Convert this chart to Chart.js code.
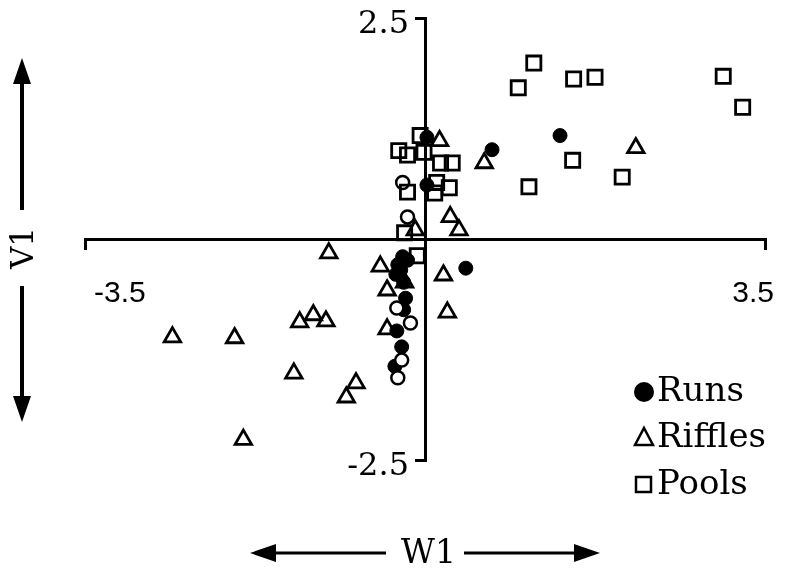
<!DOCTYPE html>
<html>
<head>
<meta charset="utf-8">
<script src="https://cdn.jsdelivr.net/npm/chart.js@4.4.1/dist/chart.umd.min.js"></script>
<style>
  html, body { margin: 0; padding: 0; background: #fff; }
  #wrap { position: relative; width: 788px; height: 573px; overflow: hidden; }
  #chart { position: absolute; left: 0; top: 0; }
  .lbl { position: absolute; font-family: 'DejaVu Serif', serif; color: #000; white-space: nowrap; }
  #deco { position: absolute; left: 0; top: 0; pointer-events: none; }
</style>
</head>
<body>
<div id="wrap">
  <canvas id="chart" width="788" height="573"></canvas>
  <svg id="deco" width="788" height="573">
    <!-- V1 arrows -->
    <line x1="22" y1="80" x2="22" y2="210" stroke="#000" stroke-width="4"/>
    <polygon points="22,58 13,84 31,84" fill="#000"/>
    <line x1="22" y1="286" x2="22" y2="400" stroke="#000" stroke-width="4"/>
    <polygon points="22,422 13,396 31,396" fill="#000"/>
    <!-- W1 arrows -->
    <line x1="272" y1="553" x2="386" y2="553" stroke="#000" stroke-width="3"/>
    <polygon points="250,553 276,544 276,562" fill="#000"/>
    <line x1="464" y1="553" x2="578" y2="553" stroke="#000" stroke-width="3"/>
    <polygon points="600,553 574,544 574,562" fill="#000"/>
    <!-- legend markers -->
    <circle cx="644" cy="392" r="10" fill="#000"/>
    <polygon points="644,428 653,445 635,445" fill="none" stroke="#000" stroke-width="2.5"/>
    <rect x="636" y="477" width="15" height="15" fill="none" stroke="#000" stroke-width="2.5"/>
  </svg>
  <div class="lbl" style="left:-2px; top:230px; width:48px; height:36px; font-size:31px; line-height:36px; text-align:center; transform:rotate(-90deg);">V1</div>
  <div class="lbl" style="left:401px; top:533px; font-size:33px; line-height:38px;">W1</div>
  <div class="lbl" style="left:657px; top:370px; font-size:34px; line-height:38px;">Runs</div>
  <div class="lbl" style="left:657px; top:416px; font-size:34px; line-height:38px;">Riffles</div>
  <div class="lbl" style="left:657px; top:463px; font-size:34px; line-height:38px;">Pools</div>
</div>
<script>
// site types on the W1 / V1 ordination plane
const X_TICKS = [-3.5, 3.5];
const X_LABELS = ['-3.5', '3.5'];
const Y_TICKS = [-2.5, 2.5];
const Y_LABELS = ['-2.5', '2.5'];

const RUNS_X = [1.39, 0.69, 0.02, 0.02, 0.42, -0.23, -0.28, -0.30, -0.22, -0.20, -0.22, -0.29, -0.24, -0.31, -0.18, -0.25];
const RUNS_Y = [1.17, 1.01, 1.15, 0.61, -0.33, -0.20, -0.29, -0.40, -0.49, -0.67, -0.80, -1.04, -1.22, -1.44, -0.24, -0.35];

// open circles (not in the key)
const OPEN_X = [-0.23, -0.18, -0.15, -0.29, -0.24, -0.28];
const OPEN_Y = [0.64, 0.25, -0.95, -0.78, -1.37, -1.57];

const RIFFLES_X = [0.15, 0.61, 2.17, 0.26, 0.35, -0.10, -0.99, -0.46, -0.21, -0.39, 0.19, 0.23, -0.39, -1.15, -1.29, -1.02, -2.60, -1.96, -1.35, -0.71, -0.81, -1.87];
const RIFFLES_Y = [1.11, 0.86, 1.03, 0.25, 0.10, 0.10, -0.16, -0.31, -0.49, -0.58, -0.41, -0.83, -1.02, -0.86, -0.94, -0.93, -1.11, -1.12, -1.52, -1.63, -1.79, -2.27];

const POOLS_X = [1.12, 0.96, 1.53, 1.75, 3.07, 3.27, 1.52, 1.07, 2.03, -0.05, -0.27, -0.18, -0.01, 0.16, 0.28, -0.18, 0.12, 0.25, 0.10, -0.21, -0.08];
const POOLS_Y = [1.99, 1.71, 1.81, 1.83, 1.84, 1.49, 0.89, 0.59, 0.70, 1.17, 1.00, 0.95, 0.98, 0.86, 0.86, 0.53, 0.64, 0.58, 0.52, 0.07, -0.19];

function pts(xs, ys) {
  return xs.map((x, i) => ({ x, y: ys[i] }));
}

const datasets = [
  { label: 'Pools', data: pts(POOLS_X, POOLS_Y), pointStyle: 'rect', pointRadius: 10,
    borderColor: '#000', backgroundColor: 'rgba(255,255,255,0)', borderWidth: 2.8 },
  { label: 'Riffles', data: pts(RIFFLES_X, RIFFLES_Y), pointStyle: 'triangle', pointRadius: 9.5,
    borderColor: '#000', backgroundColor: 'rgba(255,255,255,0)', borderWidth: 2.8 },
  { label: 'open', data: pts(OPEN_X, OPEN_Y), pointStyle: 'circle', pointRadius: 6.5,
    borderColor: '#000', backgroundColor: '#fff', borderWidth: 2.5 },
  { label: 'Runs', data: pts(RUNS_X, RUNS_Y), pointStyle: 'circle', pointRadius: 7,
    borderColor: '#000', backgroundColor: '#000', borderWidth: 1 },
];

const axisGrid = { drawOnChartArea: false, drawTicks: true, tickLength: 9, color: '#000', lineWidth: 3 };

new Chart(document.getElementById('chart'), {
  type: 'scatter',
  data: { datasets },
  options: {
    responsive: false,
    animation: false,
    layout: { padding: { left: 85, right: 23, top: 18, bottom: 113 } },
    plugins: { legend: { display: false }, tooltip: { enabled: false } },
    scales: {
      x: {
        type: 'linear', min: -3.5, max: 3.5,
        position: { y: 0 },
        afterFit: (s) => { s.height = 0; s.paddingLeft = 0; s.paddingRight = 0; },
        afterBuildTicks: (s) => { s.ticks = X_TICKS.map(v => ({ value: v })); },
        border: { color: '#000', width: 3 },
        grid: axisGrid,
        ticks: {
          align: 'inner', padding: 28, labelOffset: 9, color: '#000',
          font: { family: 'Liberation Sans', size: 30 },
          callback: (v, i) => X_LABELS[i],
        },
      },
      y: {
        type: 'linear', min: -2.5, max: 2.5,
        position: { x: 0 },
        afterFit: (s) => { s.width = 0; s.paddingTop = 0; s.paddingBottom = 0; },
        afterBuildTicks: (s) => { s.ticks = Y_TICKS.map(v => ({ value: v })); },
        border: { color: '#000', width: 3 },
        grid: axisGrid,
        ticks: {
          labelOffset: 7, color: '#000',
          font: { family: 'DejaVu Serif', size: 32 },
          // centred axes ignore tick padding, so an en space keeps the label off the line
          callback: (v, i) => Y_LABELS[i] + '\u2002',
        },
      },
    },
  },
});
</script>
</body>
</html>
